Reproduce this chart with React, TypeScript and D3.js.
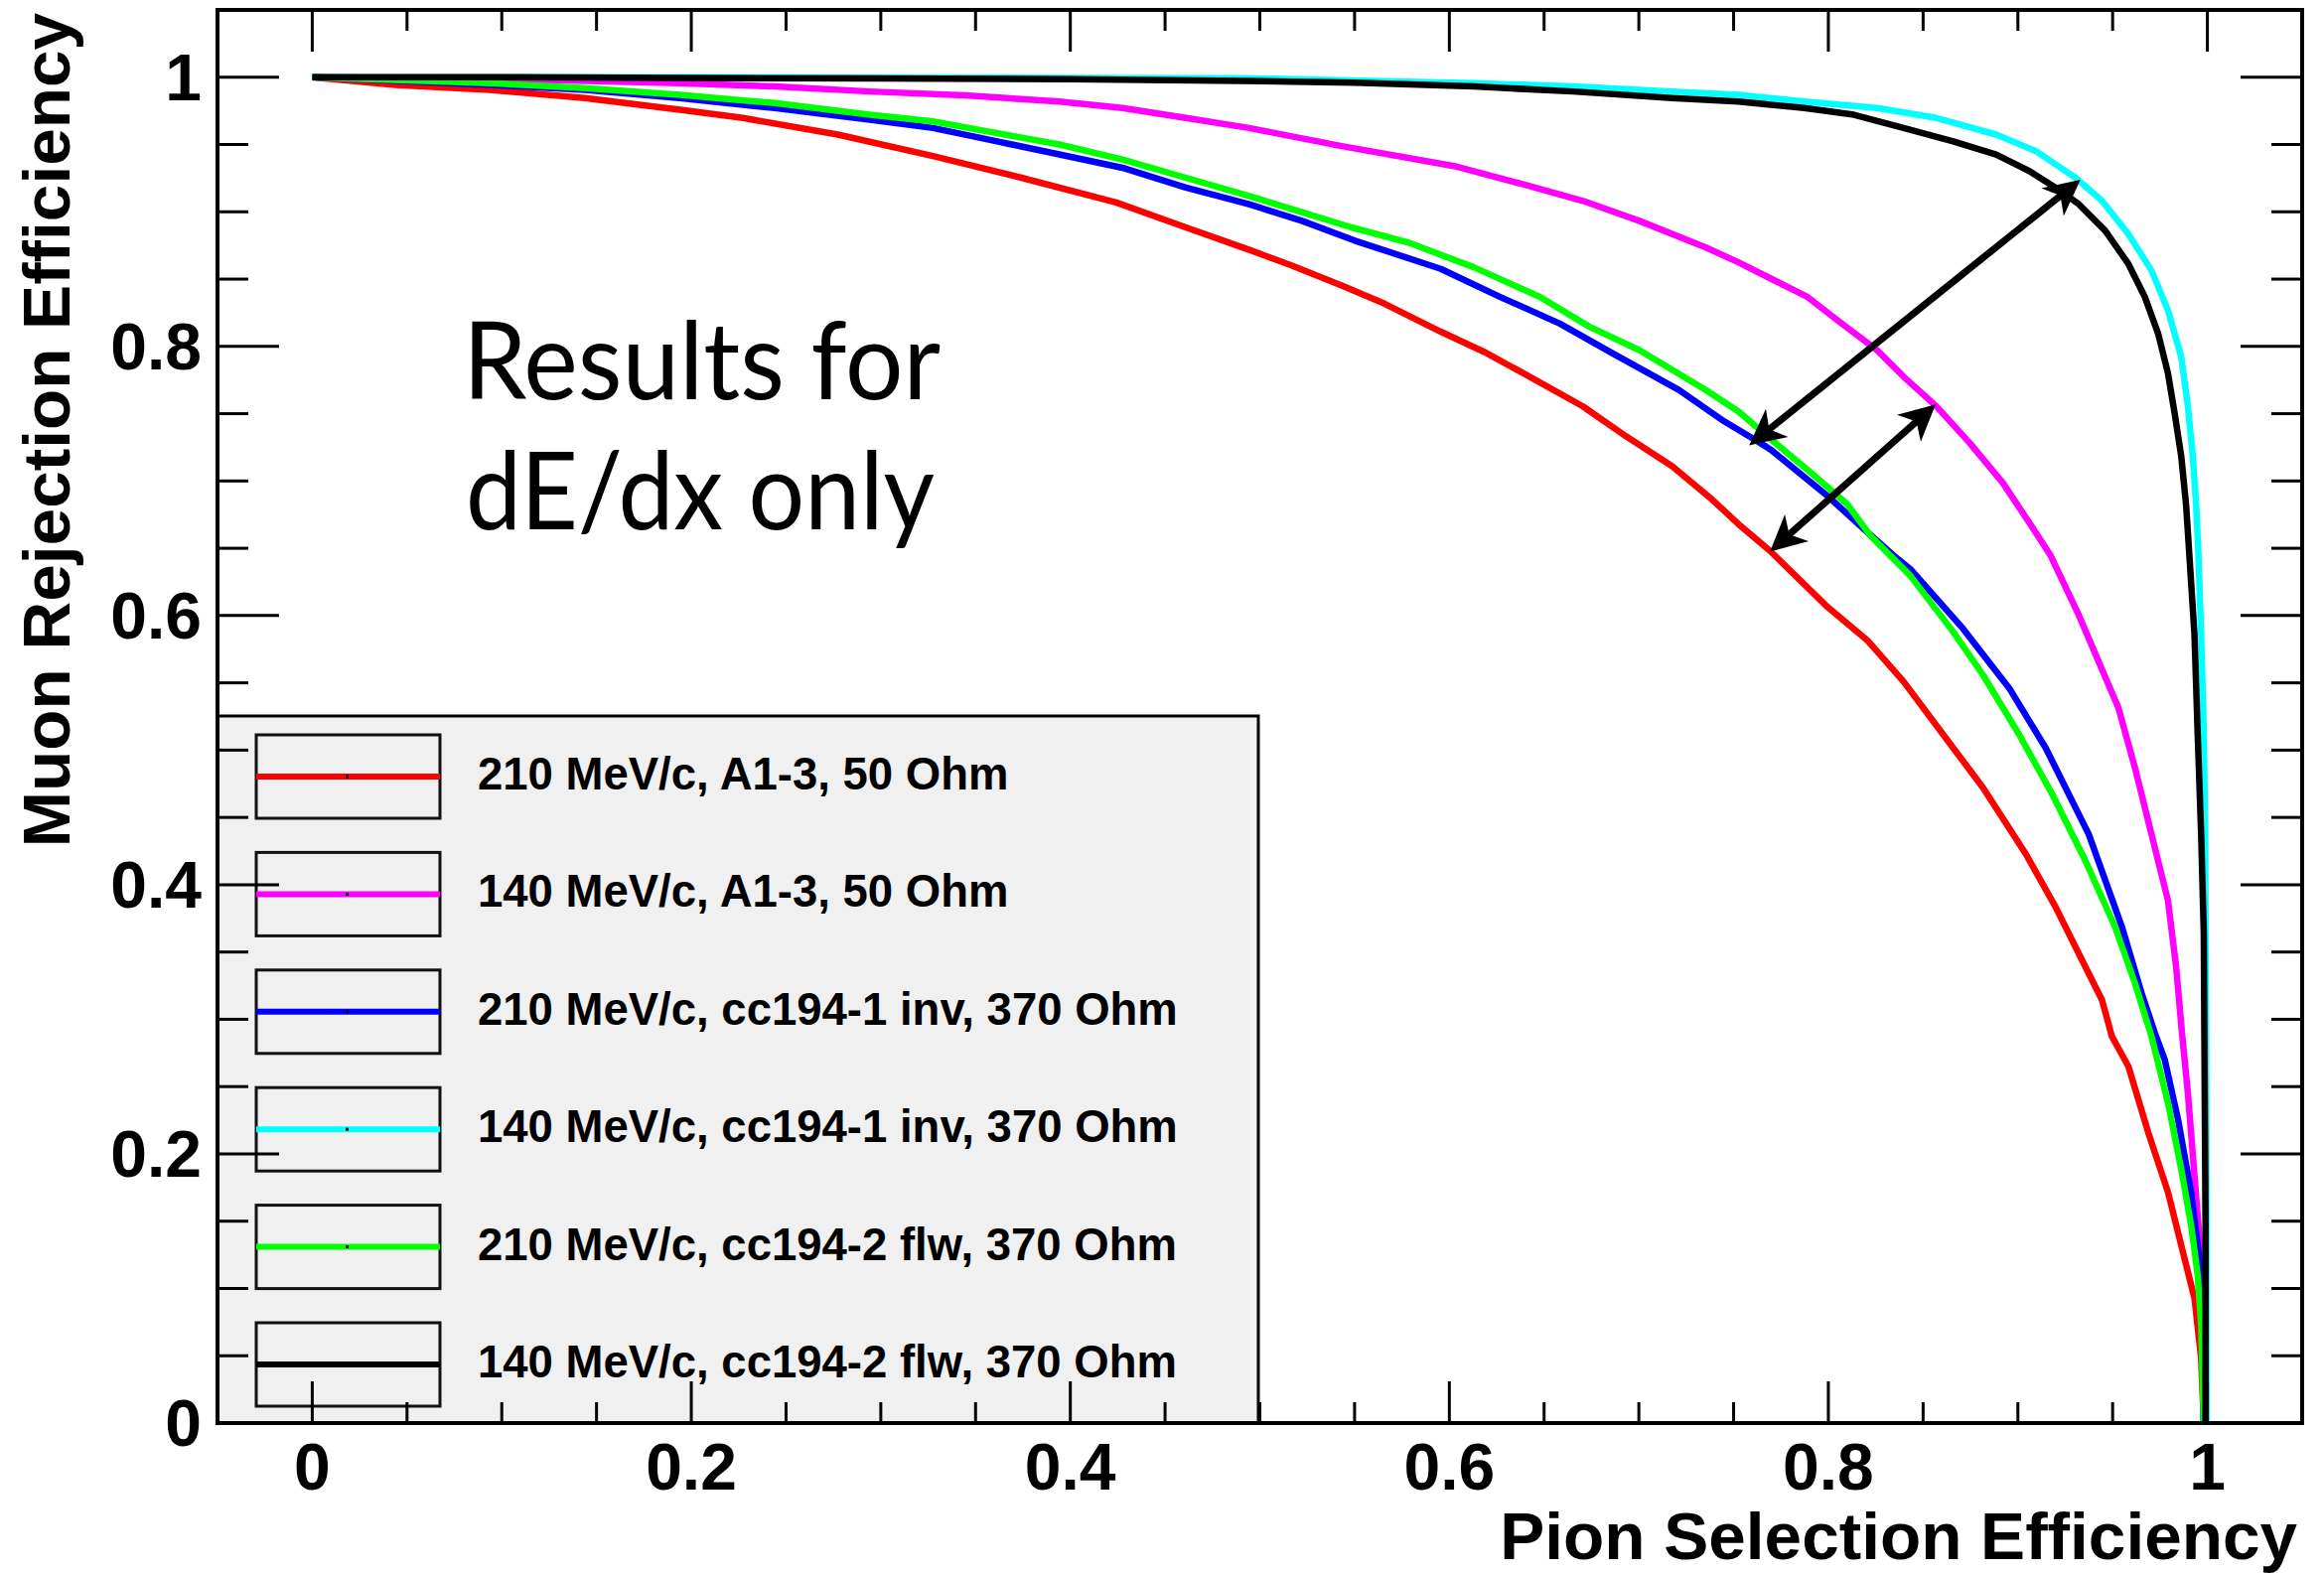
import React from 'react';
import * as d3 from 'd3';

const W = 2340;
const H = 1584;

// axis ticks
const xTickValues = [0, 0.2, 0.4, 0.6, 0.8, 1];
const xTickLabels = ['0', '0.2', '0.4', '0.6', '0.8', '1'];
const yTickValues = [0, 0.2, 0.4, 0.6, 0.8, 1];
const yTickLabels = ['0', '0.2', '0.4', '0.6', '0.8', '1'];
const xDomain = [-0.05, 1.05];
const yDomain = [0, 1.05];

const xTitle = 'Pion Selection Efficiency';
const yTitle = 'Muon Rejection Efficiency';
const noteLines = ['Results for', 'dE/dx only'];

const seriesNames = [
  '210 MeV/c, A1-3, 50 Ohm',
  '140 MeV/c, A1-3, 50 Ohm',
  '210 MeV/c, cc194-1 inv, 370 Ohm',
  '140 MeV/c, cc194-1 inv, 370 Ohm',
  '210 MeV/c, cc194-2 flw, 370 Ohm',
  '140 MeV/c, cc194-2 flw, 370 Ohm',
];
const seriesColors = ['#ff0000', '#ff00ff', '#0000ff', '#00ffff', '#00ff00', '#000000'];

type P = [number, number];

const red210A13: P[] = [
  [0, 1], [0.0438, 0.9943], [0.0937, 0.9906], [0.1439, 0.9845], [0.194, 0.9758], [0.2273, 0.9697],
  [0.2773, 0.9574], [0.3275, 0.9414], [0.3742, 0.9253], [0.4242, 0.9069], [0.461, 0.8884],
  [0.4908, 0.8736], [0.517, 0.86], [0.5432, 0.8453], [0.5658, 0.8317], [0.5955, 0.8109],
  [0.6182, 0.796], [0.6391, 0.78], [0.6705, 0.7554], [0.6932, 0.7332], [0.7176, 0.711],
  [0.7385, 0.6864], [0.7525, 0.668], [0.7691, 0.6482], [0.7996, 0.6063], [0.8205, 0.5817],
  [0.8397, 0.5509], [0.8659, 0.5016], [0.8816, 0.4721], [0.9042, 0.4228], [0.9199, 0.3834],
  [0.9339, 0.3439], [0.9444, 0.3143], [0.9496, 0.2873], [0.9583, 0.2651], [0.9688, 0.2158],
  [0.9792, 0.1715], [0.9862, 0.1321], [0.9932, 0.0926], [0.9967, 0.0483], [0.9981, 0],
];

const magenta140A13: P[] = [
  [0, 1], [0.0938, 0.9988], [0.1439, 0.9973], [0.194, 0.9956], [0.244, 0.9931], [0.2941, 0.9894],
  [0.3442, 0.9865], [0.3942, 0.982], [0.4275, 0.9771], [0.461, 0.9697], [0.4943, 0.9623],
  [0.517, 0.956], [0.5432, 0.9488], [0.6025, 0.934], [0.6391, 0.9204], [0.6705, 0.9081],
  [0.7002, 0.8933], [0.7351, 0.8736], [0.7525, 0.8625], [0.7699, 0.8502], [0.7891, 0.8366],
  [0.8048, 0.8194], [0.8257, 0.7972], [0.8397, 0.7775], [0.8571, 0.7553], [0.8746, 0.7282],
  [0.892, 0.6987], [0.906, 0.6691], [0.9173, 0.6445], [0.9322, 0.6001], [0.9531, 0.5312],
  [0.9618, 0.4868], [0.9705, 0.4375], [0.9792, 0.3883], [0.9835, 0.339], [0.9866, 0.2897],
  [0.9897, 0.2454], [0.9932, 0.1838], [0.9967, 0.1222], [0.9981, 0.0732], [0.9981, 0],
];

const blue210cc1: P[] = [
  [0, 1], [0.0938, 0.9943], [0.1439, 0.9906], [0.194, 0.9845], [0.244, 0.9771], [0.2941, 0.9684],
  [0.3275, 0.9623], [0.3608, 0.9525], [0.3942, 0.9426], [0.4275, 0.9327], [0.461, 0.918],
  [0.4943, 0.9056], [0.5222, 0.8933], [0.5501, 0.8786], [0.5955, 0.8576], [0.6269, 0.8367],
  [0.6583, 0.8169], [0.6862, 0.7948], [0.7211, 0.7677], [0.7437, 0.7455], [0.7612, 0.7307],
  [0.7699, 0.723], [0.7996, 0.6888], [0.8188, 0.6642], [0.8345, 0.6445], [0.8432, 0.6346],
  [0.8711, 0.5902], [0.8955, 0.5459], [0.9147, 0.5016], [0.9374, 0.4375], [0.9549, 0.3686],
  [0.9653, 0.3193], [0.9723, 0.2897], [0.9775, 0.27], [0.9845, 0.2257], [0.9914, 0.1715],
  [0.9958, 0.1222], [0.9975, 0.073], [0.9981, 0],
];

const cyan140cc1: P[] = [
  [0, 1], [0.2, 1.0], [0.4, 0.9995], [0.4908, 0.9993], [0.6129, 0.9956], [0.6652, 0.9931],
  [0.7176, 0.9894], [0.7525, 0.9869], [0.7873, 0.982], [0.8257, 0.9771], [0.8571, 0.9697],
  [0.8885, 0.9574], [0.9095, 0.9451], [0.9304, 0.9253], [0.9444, 0.9081], [0.9583, 0.8835],
  [0.9705, 0.8564], [0.9792, 0.8268], [0.9862, 0.7923], [0.9897, 0.7554], [0.9923, 0.7184],
  [0.9941, 0.6815], [0.9953, 0.6445], [0.9967, 0.5854], [0.9981, 0.5115], [0.9988, 0.4375],
  [0.9993, 0.2897], [0.9995, 0.1], [0.9995, 0],
];

const green210cc2: P[] = [
  [0, 1], [0.0938, 0.9956], [0.1439, 0.9919], [0.194, 0.9869], [0.244, 0.9808], [0.2941, 0.9722],
  [0.3275, 0.9672], [0.3608, 0.9586], [0.3942, 0.95], [0.4275, 0.9389], [0.461, 0.9253],
  [0.4943, 0.9118], [0.517, 0.902], [0.5484, 0.8884], [0.5781, 0.8773], [0.6129, 0.8588],
  [0.6478, 0.8367], [0.674, 0.8145], [0.7002, 0.7973], [0.7351, 0.7677], [0.7525, 0.7517],
  [0.7699, 0.7307], [0.7908, 0.7061], [0.81, 0.6827], [0.8222, 0.6593], [0.8432, 0.6297],
  [0.8659, 0.5878], [0.8816, 0.5558], [0.9007, 0.5115], [0.9182, 0.4671], [0.9356, 0.4178],
  [0.9513, 0.3686], [0.9618, 0.3267], [0.9705, 0.2873], [0.9792, 0.238], [0.9862, 0.1887],
  [0.9914, 0.1469], [0.9949, 0.1099], [0.9967, 0.073], [0.9981, 0],
];

const black140cc2: P[] = [
  [0, 1], [0.1, 1.0], [0.2, 0.9995], [0.3, 0.999], [0.4, 0.9985], [0.4908, 0.9973], [0.55, 0.996],
  [0.6129, 0.9931], [0.6652, 0.9894], [0.7176, 0.9845], [0.7525, 0.982], [0.7873, 0.9771],
  [0.8135, 0.9721], [0.8397, 0.9623], [0.8659, 0.9524], [0.8885, 0.9426], [0.906, 0.9303],
  [0.9199, 0.918], [0.9322, 0.9056], [0.9461, 0.8859], [0.9583, 0.8613], [0.967, 0.8367],
  [0.974, 0.8096], [0.9792, 0.78], [0.9827, 0.7504], [0.9862, 0.7184], [0.9888, 0.6815],
  [0.9905, 0.6445], [0.9932, 0.5854], [0.9949, 0.5115], [0.9967, 0.4375], [0.9981, 0.3636],
  [0.9984, 0.2897], [0.999, 0.15], [0.999, 0],
];

const seriesData = [red210A13, magenta140A13, blue210cc1, cyan140cc1, green210cc2, black140cc2];

// double-headed arrows (data coordinates)
const arrowA: P[] = [[0.7582, 0.7265], [0.933, 0.9239]];
const arrowB: P[] = [[0.7692, 0.6475], [0.8566, 0.7568]];
const arrows = [arrowA, arrowB];

const BOLD = "'Liberation Sans', Arial, Helvetica, sans-serif";

export default function App() {
  const left = 219, right = 2318, top = 10, bottom = 1433;
  const x = d3.scaleLinear().domain(xDomain).range([left, right]);
  const y = d3.scaleLinear().domain(yDomain).range([bottom, top]);
  const line = d3.line<P>().x((d) => x(d[0])).y((d) => y(d[1]));

  const xMajLen = 42, xMinLen = 21, yMajLen = 62, yMinLen = 31;
  const minorKs = d3.range(1, 21).filter((k) => k % 4 !== 0);
  const xMinor = minorKs.map((k) => k * 0.05);
  const yMinor = minorKs.map((k) => k * 0.05);

  const arrowHead = (tip: P, from: P) => {
    const tx = x(tip[0]), ty = y(tip[1]);
    const fx = x(from[0]), fy = y(from[1]);
    const len = Math.hypot(tx - fx, ty - fy);
    const ux = (tx - fx) / len, uy = (ty - fy) / len;
    const nx = -uy, ny = ux;
    const L = 36, Wd = 18, N = 0.72 * L;
    const pts = [
      [tx, ty],
      [tx - L * ux + Wd * nx, ty - L * uy + Wd * ny],
      [tx - N * ux, ty - N * uy],
      [tx - L * ux - Wd * nx, ty - L * uy - Wd * ny],
    ];
    return pts.map((p) => p.join(',')).join(' ');
  };

  // legend layout
  const legX = left, legY = 721, legW = 1267 - left, legH = bottom - 721;
  const rowY0 = 782, rowStep = 118.4;

  return (
    <svg width={W} height={H} style={{ position: 'absolute', left: 0, top: 0, background: '#fff' }}>
      <rect x={0} y={0} width={W} height={H} fill="#fff" />

      {/* curves */}
      {seriesData.map((s, i) => (
        <path key={i} d={line(s) || ''} fill="none" stroke={seriesColors[i]} strokeWidth={6.5}
          strokeLinejoin="round" />
      ))}

      {/* arrows */}
      {arrows.map((a, i) => {
        const x1 = x(a[0][0]), y1 = y(a[0][1]), x2 = x(a[1][0]), y2 = y(a[1][1]);
        const len = Math.hypot(x2 - x1, y2 - y1);
        const ux = (x2 - x1) / len, uy = (y2 - y1) / len;
        const off = 20;
        return (
          <g key={i}>
            <line x1={x1 + ux * off} y1={y1 + uy * off} x2={x2 - ux * off} y2={y2 - uy * off}
              stroke="#000" strokeWidth={7} />
            <polygon points={arrowHead(a[1], a[0])} fill="#000" />
            <polygon points={arrowHead(a[0], a[1])} fill="#000" />
          </g>
        );
      })}

      {/* note */}
      <text x={466} y={402} fontFamily="Lato, 'Open Sans', sans-serif" fontSize={108}
        textLength={481} lengthAdjust="spacingAndGlyphs" fill="#000">{noteLines[0]}</text>
      <text x={469} y={533} fontFamily="Lato, 'Open Sans', sans-serif" fontSize={108}
        textLength={472} lengthAdjust="spacingAndGlyphs" fill="#000">{noteLines[1]}</text>

      {/* legend */}
      <rect x={legX} y={legY} width={legW} height={legH} fill="#f0f0f0" stroke="#000" strokeWidth={3} />
      {seriesNames.map((name, i) => {
        const cy = rowY0 + i * rowStep;
        return (
          <g key={i}>
            <rect x={258} y={cy - 42} width={185} height={84} fill="#f0f0f0" stroke="#111" strokeWidth={3} />
            <line x1={258} x2={443} y1={cy} y2={cy} stroke={seriesColors[i]} strokeWidth={6} />
            <rect x={348} y={cy - 1.5} width={3} height={3} fill="#000" />
            <text x={481} y={cy + 13} fontFamily={BOLD} fontWeight="bold" fontSize={45.5} fill="#000">{name}</text>
          </g>
        );
      })}

      {/* ticks */}
      <g stroke="#000" strokeWidth={3}>
        {xTickValues.map((v, i) => (
          <g key={'xm' + i}>
            <line x1={x(v)} x2={x(v)} y1={bottom} y2={bottom - xMajLen} />
            <line x1={x(v)} x2={x(v)} y1={top} y2={top + xMajLen} />
          </g>
        ))}
        {xMinor.map((v, i) => (
          <g key={'xn' + i}>
            <line x1={x(v)} x2={x(v)} y1={bottom} y2={bottom - xMinLen} />
            <line x1={x(v)} x2={x(v)} y1={top} y2={top + xMinLen} />
          </g>
        ))}
        {yTickValues.map((v, i) => (
          <g key={'ym' + i}>
            <line x1={left} x2={left + yMajLen} y1={y(v)} y2={y(v)} />
            <line x1={right} x2={right - yMajLen} y1={y(v)} y2={y(v)} />
          </g>
        ))}
        {yMinor.map((v, i) => (
          <g key={'yn' + i}>
            <line x1={left} x2={left + yMinLen} y1={y(v)} y2={y(v)} />
            <line x1={right} x2={right - yMinLen} y1={y(v)} y2={y(v)} />
          </g>
        ))}
      </g>

      {/* frame */}
      <rect x={left} y={top} width={right - left} height={bottom - top} fill="none" stroke="#000" strokeWidth={4} />

      {/* tick labels */}
      {xTickValues.map((v, i) => (
        <text key={'xl' + i} x={x(v)} y={1500} textAnchor="middle" fontFamily={BOLD} fontWeight="bold"
          fontSize={66} fill="#000">{xTickLabels[i]}</text>
      ))}
      {yTickValues.map((v, i) => (
        <text key={'yl' + i} x={203} y={y(v) + 23} textAnchor="end" fontFamily={BOLD} fontWeight="bold"
          fontSize={66} fill="#000">{yTickLabels[i]}</text>
      ))}

      {/* axis titles */}
      <text x={2313} y={1570} textAnchor="end" fontFamily={BOLD} fontWeight="bold" fontSize={67.5} fill="#000">{xTitle}</text>
      <text transform="translate(70,13) rotate(-90)" textAnchor="end" fontFamily={BOLD} fontWeight="bold"
        fontSize={67.5} fill="#000">{yTitle}</text>
    </svg>
  );
}
